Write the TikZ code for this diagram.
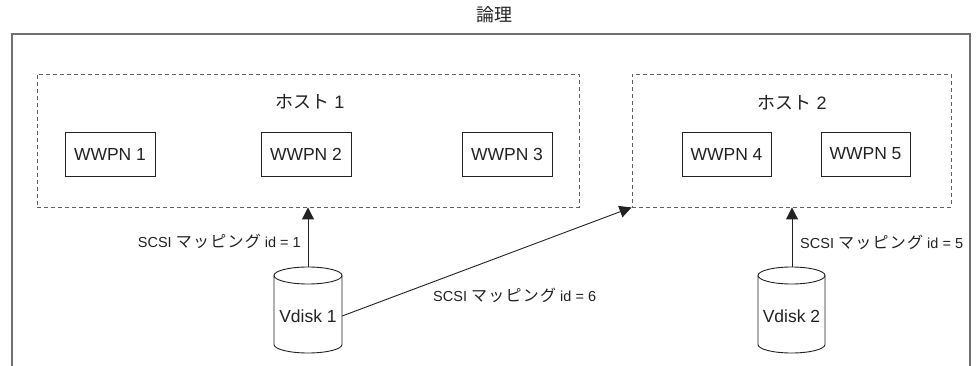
\documentclass[tikz,border=0pt]{standalone}
\usepackage{fontspec}
\setmainfont{Liberation Sans}
\newfontfamily\jp{Noto Sans CJK JP}
\newfontfamily\jpl{Noto Sans CJK JP}[LetterSpace=8]
\usetikzlibrary{arrows.meta}
\definecolor{ink}{HTML}{222222}
\definecolor{frame}{HTML}{707070}
\definecolor{dash}{HTML}{606060}
\tikzset{
  hostbox/.style={draw=dash, line width=0.9pt, dash pattern=on 4pt off 3pt, minimum width=#1, minimum height=133pt, inner sep=0pt},
  wwpn/.style={draw=ink, line width=0.9pt, minimum width=90pt, minimum height=44pt, inner sep=0pt, font=\fontsize{17.5}{20}\selectfont, text=ink},
  hostlbl/.style={font=\fontsize{18}{20}\selectfont, text=ink, inner sep=0pt},
  maplbl/.style={font=\fontsize{14.5}{16}\selectfont, text=ink, inner sep=0pt},
  disklbl/.style={font=\fontsize{17.5}{20}\selectfont, text=ink, inner sep=0pt, minimum width=#1},
  cylline/.style={draw=ink, line width=0.9pt},
  maparrow/.style={draw=ink, line width=0.9pt, -{Triangle[length=12pt,width=12pt]}},
}
\newcommand{\mapkana}{{\jpl\fontsize{16}{16}\selectfont マッピング}}
\begin{document}
\begin{tikzpicture}[x=1pt,y=1pt]
\useasboundingbox (0,0) rectangle (976,366);
% title
\node[font=\jp\fontsize{18}{20}\selectfont, text=ink, inner sep=0pt] (title) at (494,351) {論理};
% outer frame
\draw[frame, line width=1.8pt] (12,-5) -- (12,332) -- (970,332) -- (970,-5);
% hosts
\node[hostbox=542pt] (h1) at (308,225.5) {};
\node[hostbox=319pt] (h2) at (791.5,225.5) {};
\node[hostlbl] (h1l) at (310,264) {{\jp ホスト} 1};
\node[hostlbl] (h2l) at (792,263) {{\jp ホスト} 2};
% WWPNs
\node[wwpn] (w1) at (110,212) {WWPN 1};
\node[wwpn] (w2) at (306,212) {WWPN 2};
\node[wwpn] (w3) at (507,212) {WWPN 3};
\node[wwpn, minimum width=89pt] (w4) at (726.5,212) {WWPN 4};
\node[wwpn, minimum width=89pt] (w5) at (865.5,212) {WWPN 5};
% disks
\draw[cylline] (274,90.5) -- (274,21.5) arc[start angle=180,end angle=360,x radius=34pt,y radius=8.5pt] -- (342,90.5);
\draw[cylline] (308,90.5) ellipse[x radius=34pt, y radius=8.5pt];
\node[disklbl=68pt] (v1) at (308,50) {Vdisk 1};
\coordinate (v1top) at (308,99);
\draw[cylline] (758,90.5) -- (758,21.5) arc[start angle=180,end angle=360,x radius=33.5pt,y radius=8.5pt] -- (825,90.5);
\draw[cylline] (791.5,90.5) ellipse[x radius=33.5pt, y radius=8.5pt];
\node[disklbl=67pt] (v2) at (791.5,50) {Vdisk 2};
\coordinate (v2top) at (792,99);
% connectors
\draw[maparrow] (v1top) -- (v1top |- h1.south);
\draw[maparrow] (v2top) -- (v2top |- h2.south);
\draw[maparrow] (v1.east) -- (h2.south west);
% labels
\node[maplbl, anchor=east] (m1) at (301,125) {SCSI \mapkana\ id = 1};
\node[maplbl, anchor=west] (m5) at (800,124) {SCSI \mapkana\ id = 5};
\node[maplbl, anchor=west] (m6) at (433,71) {SCSI \mapkana\ id = 6};
\end{tikzpicture}
\end{document}
